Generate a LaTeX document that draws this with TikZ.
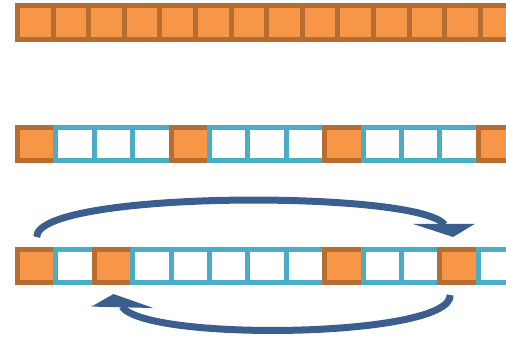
\documentclass[tikz,border=0pt]{standalone}
\usetikzlibrary{arrows.meta,calc,positioning}
\definecolor{boxorange}{HTML}{F79646}
\definecolor{boxedge}{HTML}{B66D31}
\definecolor{boxblue}{HTML}{4BACC6}
\definecolor{moveblue}{HTML}{3A5F8E}
\tikzset{
  cell/.style={draw, line width=5pt, inner sep=0pt, outer sep=0pt, minimum width=38.4pt, minimum height=33pt},
  full/.style={cell, fill=boxorange, draw=boxedge},
  empty/.style={cell, fill=white, draw=boxblue},
  moveline/.style={draw=moveblue, line width=7pt, -{Triangle[length=16pt, width=50pt, slant=0.7]}}
}
\begin{document}
\begin{tikzpicture}[x=1pt, y=-1pt]
\useasboundingbox (0,0) rectangle (506,337);
% row 1
\foreach \i in {0,...,13}
  \node[full, minimum width=35.6pt, minimum height=33.7pt] (r1c\i) at ({35.3+35.6*\i},22.35) {};
% row 2
\foreach \s [count=\i from 0] in {full,empty,empty,empty,full,empty,empty,empty,full,empty,empty,empty,full}
  \node[\s] (r2c\i) at ({36.7+38.4*\i},144) {};
% row 3
\foreach \s [count=\i from 0] in {full,empty,full,empty,empty,empty,empty,empty,full,empty,empty,full,empty}
  \node[\s] (r3c\i) at ({36.7+38.4*\i},266) {};

\coordinate (tailA) at ($(r3c0.north)+(0,-12.5)$);
\coordinate (tipA) at ($(r3c11.north)+(-6,-12.5)$);
\coordinate (tailB) at ($(r3c11.south)+(-9,12.5)$);
\coordinate (tipB) at ($(r3c2.south)+(0,11.5)$);

\draw[moveline] (tailA) .. controls +(0,-47) and +(-33,-47) .. (tipA);
\draw[moveline] (tailB) .. controls +(2,43) and +(32,48) .. (tipB);
\end{tikzpicture}
\end{document}
